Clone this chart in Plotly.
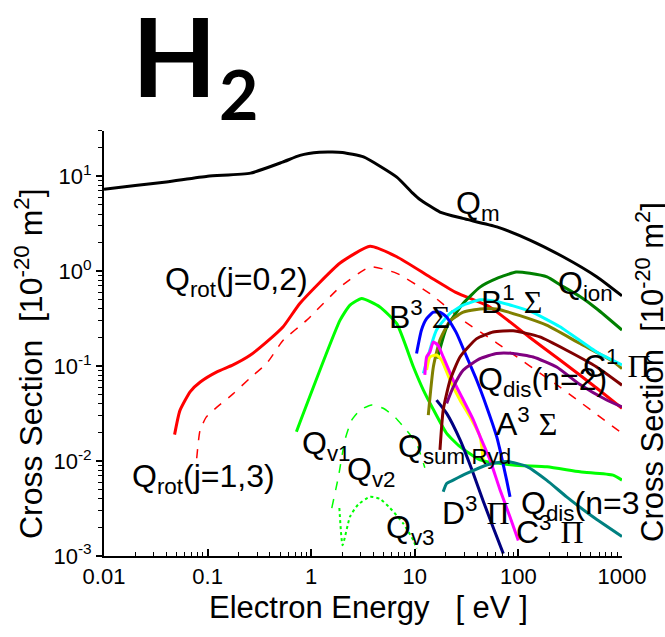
import math
import plotly.graph_objects as go

# Electron-impact cross sections for H2, in units of 1e-20 m^2, versus energy in eV

qm_e = [0.01, 0.02, 0.04, 0.1, 0.26, 0.53, 0.78, 1.2, 1.6, 2.0, 3.2, 6.7, 9.6, 11.2, 17.5, 29, 62, 129, 270, 574, 1000]
qm_s = [7.3, 8.0, 8.7, 10.0, 10.8, 14.1, 16.6, 17.9, 18.0, 17.8, 16.0, 9.8, 6.6, 5.7, 4.2, 3.6, 2.93, 2.13, 1.42, 0.87, 0.55]

rot02_e = [0.048, 0.054, 0.068, 0.085, 0.123, 0.176, 0.257, 0.372, 0.536, 0.78, 1.9, 3.7, 6.7, 14, 25.5, 53, 129, 252, 525, 1000]
rot02_s = [0.019, 0.034, 0.054, 0.068, 0.087, 0.103, 0.13, 0.18, 0.26, 0.46, 1.22, 1.83, 1.42, 0.87, 0.59, 0.42, 0.2, 0.116, 0.063, 0.036]

rot13_e = [0.0785, 0.0845, 0.097, 0.123, 0.176, 0.257, 0.372, 0.536, 0.906, 1.9, 3.7, 6.7, 14, 29, 62, 252, 1000]
rot13_s = [0.0107, 0.021, 0.029, 0.037, 0.051, 0.075, 0.107, 0.187, 0.305, 0.68, 1.11, 0.95, 0.58, 0.305, 0.175, 0.06, 0.0196]

v1_e = [0.72, 1.9, 2.37, 3.07, 4.6, 6.7, 9.7, 12.1, 15.1, 20.3, 27.3, 42.6, 88.7, 189, 393, 819, 1000]
v1_s = [0.0204, 0.305, 0.44, 0.516, 0.42, 0.28, 0.098, 0.056, 0.035, 0.0196, 0.0142, 0.0103, 0.0091, 0.0087, 0.0077, 0.0071, 0.0063]

v2_e = [1.58, 1.83, 2.12, 2.46, 2.96, 3.84, 4.96, 6.44, 8.35, 10.4, 12.5]
v2_s = [0.0032, 0.0068, 0.0168, 0.027, 0.0344, 0.039, 0.036, 0.029, 0.021, 0.0153, 0.0085]

v3_e = [1.87, 2.01, 2.37, 2.85, 3.7, 4.61, 5.77, 7.74, 9.68, 10.4]
v3_s = [0.0032, 0.0013, 0.0026, 0.0035, 0.0042, 0.004, 0.0032, 0.0022, 0.00146, 0.0012]

ion_e = [16.5, 20.3, 29.4, 42.6, 62, 95, 129, 189, 252, 393, 574, 1000]
ion_s = [0.12, 0.257, 0.46, 0.68, 0.84, 0.98, 0.95, 0.87, 0.72, 0.54, 0.4, 0.24]

b1_e = [12.1, 16.2, 21.9, 29.4, 42.6, 62, 129, 252, 574, 1000]
b1_s = [0.084, 0.24, 0.36, 0.44, 0.5, 0.48, 0.38, 0.26, 0.14, 0.103]

c1_e = [13.5, 15.1, 17.5, 21.9, 29.4, 42.6, 61.6, 103.5, 187, 393, 824, 1000]
c1_s = [0.0305, 0.098, 0.19, 0.3, 0.37, 0.4, 0.4, 0.34, 0.27, 0.173, 0.112, 0.094]

b3_e = [10.4, 11.6, 13.0, 15.1, 17.5, 20.3, 25.4, 31.7, 39.6, 49.4, 61.6, 66.4, 77, 83]
b3_s = [0.136, 0.24, 0.316, 0.37, 0.37, 0.33, 0.22, 0.125, 0.071, 0.0372, 0.0182, 0.0131, 0.0063, 0.0042]

c3_e = [12.5, 13.0, 14.0, 15.1, 16.8, 18.8, 23.5, 29.4, 36.7, 42.6, 53.2, 66.4, 83, 99.8]
c3_s = [0.0808, 0.125, 0.141, 0.18, 0.165, 0.125, 0.071, 0.044, 0.0272, 0.0182, 0.0103, 0.005, 0.00257, 0.00146]

a3_e = [13.0, 14.0, 16.2, 18.1, 21.9, 27.3, 34.1, 42.6, 45.7]
a3_s = [0.091, 0.125, 0.131, 0.116, 0.071, 0.044, 0.0292, 0.0182, 0.0103]

d3_e = [16.2, 20.3, 27.3, 36.7, 45.7, 57.1, 71.5]
d3_s = [0.0438, 0.0318, 0.0168, 0.0074, 0.0038, 0.002, 0.00106]

ryd_e = [17.5, 18.8, 21.9, 27.3, 39.6, 57.1, 89, 161, 292, 570, 1000]
ryd_s = [0.0131, 0.0345, 0.071, 0.125, 0.195, 0.229, 0.236, 0.203, 0.147, 0.098, 0.063]

dis2_e = [20.3, 23.5, 29.4, 42.6, 61.6, 89, 139, 234, 393, 711, 1000]
dis2_s = [0.0405, 0.06, 0.091, 0.12, 0.136, 0.136, 0.125, 0.098, 0.064, 0.044, 0.0372]

dis3_e = [18.8, 20.3, 23.5, 31.7, 49.4, 77, 120, 187, 292, 528, 1000]
dis3_s = [0.00475, 0.0058, 0.0063, 0.0074, 0.0091, 0.0099, 0.0088, 0.0063, 0.0042, 0.00257, 0.0016]

x_ticks = [0.01, 0.1, 1, 10, 100, 1000]
x_tick_text = ["0.01", "0.1", "1", "10", "100", "1000"]
y_ticks = [1e-3, 1e-2, 1e-1, 1, 10]
y_tick_text = ["10<sup>-3</sup>", "10<sup>-2</sup>", "10<sup>-1</sup>", "10<sup>0</sup>", "10<sup>1</sup>"]

SANS = "Liberation Sans, Arial, sans-serif"
SERIF = "Liberation Serif, Times New Roman, serif"

series = [
    (qm_e, qm_s, "#000000", "solid", 3),
    (rot02_e, rot02_s, "#ff0000", "solid", 3),
    (rot13_e, rot13_s, "#ff0000", "dash", 1.5),
    (v1_e, v1_s, "#00ff00", "solid", 3),
    (v2_e, v2_s, "#00ff00", "dash", 1.5),
    (v3_e, v3_s, "#00ff00", "dot", 2),
    (ion_e, ion_s, "#008000", "solid", 3),
    (c1_e, c1_s, "#808000", "solid", 3),
    (b1_e, b1_s, "#00ffff", "solid", 3),
    (b3_e, b3_s, "#0000ff", "solid", 3),
    (a3_e, a3_s, "#ffff00", "solid", 3),
    (c3_e, c3_s, "#ff00ff", "solid", 3),
    (d3_e, d3_s, "#000080", "solid", 3),
    (ryd_e, ryd_s, "#800000", "solid", 3),
    (dis2_e, dis2_s, "#800080", "solid", 3),
    (dis3_e, dis3_s, "#008080", "solid", 3),
]

fig = go.Figure()
for xs, ys, color, dash, width in series:
    fig.add_trace(go.Scatter(
        x=xs, y=ys, mode="lines",
        line=dict(color=color, dash=dash, width=width, shape="spline", smoothing=0.5),
        showlegend=False, hoverinfo="skip",
    ))


def greek(s):
    return "<span style=\"font-family:%s\">%s</span>" % (SERIF, s)


# curve labels: (text, energy, cross section)
labels = [
    ("Q<sub>m</sub>", 40.7, 4.95),
    ("Q<sub>ion</sub>", 440, 0.71),
    ("B<sup>1</sup> " + greek("Σ"), 86.7, 0.495),
    ("B<sup>3</sup> " + greek("Σ"), 11.2, 0.344),
    ("Q<sub>rot</sub>(j=0,2)", 0.192, 0.77),
    ("Q<sub>rot</sub>(j=1,3)", 0.092, 0.0066),
    ("Q<sub>v1</sub>", 1.39, 0.0147),
    ("Q<sub>v2</sub>", 3.86, 0.00785),
    ("Q<sub>v3</sub>", 9.18, 0.00192),
    ("Q<sub>sum Ryd</sub>", 23.9, 0.0137),
    ("Q<sub>dis</sub>(n=2)", 169, 0.0695),
    ("A<sup>3</sup> " + greek("Σ"), 121, 0.0258),
    ("C<sup>1</sup> " + greek("Π"), 895, 0.105),
    ("Q<sub>dis</sub>(n=3", 394, 0.00344),
    ("D<sup>3</sup> " + greek("Π"), 39, 0.00298),
    ("C<sup>3</sup> " + greek("Π"), 202, 0.00188),
]
annotations = []
for text, ex, sy in labels:
    annotations.append(dict(
        text=text, x=math.log10(ex), y=math.log10(sy), xref="x", yref="y",
        showarrow=False, xanchor="center", yanchor="middle",
        font=dict(family=SANS, size=32, color="#000000"),
    ))

# plot area in pixels, used to place the heading and axis titles
L, R, T, B = 104, 622, 131, 556


def px(x):
    return (x - L) / (R - L)


def py(y):
    return (B - y) / (B - T)


# big species heading
annotations.append(dict(text="<b>H</b>", x=px(174), y=py(54),
                        xref="paper", yref="paper", showarrow=False,
                        xanchor="center", yanchor="middle",
                        font=dict(family="Lato, Open Sans, sans-serif", size=110, color="#000000")))
annotations.append(dict(text="<b>2</b>", x=px(238), y=py(93),
                        xref="paper", yref="paper", showarrow=False,
                        xanchor="center", yanchor="middle",
                        font=dict(family="Lato, Open Sans, sans-serif", size=68, color="#000000")))

# axis titles
ytitle = "Cross Section  [10<sup>-20</sup> m<sup>2</sup>]"
annotations.append(dict(text=ytitle, textangle=-90, x=px(29), y=py(364),
                        xref="paper", yref="paper", showarrow=False,
                        xanchor="center", yanchor="middle",
                        font=dict(family=SANS, size=32, color="#000000")))
annotations.append(dict(text=ytitle, textangle=-90, x=px(650), y=py(372),
                        xref="paper", yref="paper", showarrow=False,
                        xanchor="center", yanchor="middle",
                        font=dict(family=SANS, size=31, color="#000000")))
annotations.append(dict(text="Electron Energy   [ eV ]", x=px(368), y=py(607),
                        xref="paper", yref="paper", showarrow=False,
                        xanchor="center", yanchor="middle",
                        font=dict(family=SANS, size=31, color="#000000")))

x_minor = [m * 10 ** d for d in range(-2, 3) for m in range(2, 10)]
y_minor = [m * 10 ** d for d in range(-3, 1) for m in range(2, 10)] + [20, 30]

fig.update_layout(
    width=665, height=637,
    margin=dict(l=L, r=665 - R, t=T, b=637 - B),
    paper_bgcolor="white", plot_bgcolor="white",
    showlegend=False,
    annotations=annotations,
    xaxis=dict(
        type="log", range=[-2, 3], showgrid=False, zeroline=False,
        showline=True, linecolor="black", linewidth=2,
        tickvals=x_ticks, ticktext=x_tick_text,
        ticks="inside", ticklen=7, tickwidth=1.5, tickcolor="black",
        tickfont=dict(family=SANS, size=22, color="black"),
        minor=dict(tickvals=x_minor, ticks="inside", ticklen=4, tickwidth=1.2,
                   tickcolor="black", showgrid=False),
    ),
    yaxis=dict(
        type="log", range=[-3, 1.477], showgrid=False, zeroline=False,
        showline=True, linecolor="black", linewidth=2,
        tickvals=y_ticks, ticktext=y_tick_text,
        ticks="outside", ticklen=6, tickwidth=1.5, tickcolor="black",
        tickfont=dict(family=SANS, size=22, color="black"),
        minor=dict(tickvals=y_minor, ticks="outside", ticklen=4, tickwidth=1.2,
                   tickcolor="black", showgrid=False),
    ),
)

fig.write_html("out.html")
